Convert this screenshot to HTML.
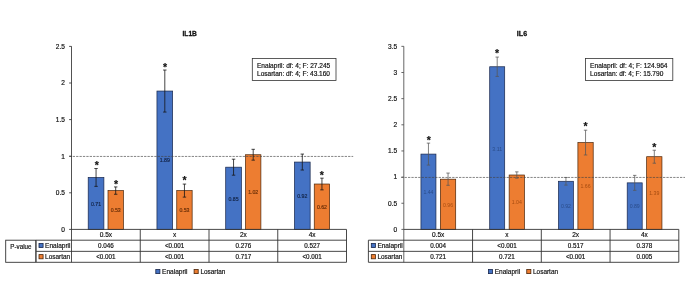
<!DOCTYPE html>
<html lang="en">
<head>
<meta charset="utf-8">
<title>IL1B and IL6 expression</title>
<style>
html,body{margin:0;padding:0;background:#fff;}
body{width:685px;height:293px;overflow:hidden;font-family:'Liberation Sans',sans-serif;}
svg{display:block;}
svg text{stroke-linejoin:round;}
</style>
</head>
<body>
<svg width="685" height="293" viewBox="0 0 685 293" font-family="'Liberation Sans', sans-serif">
<rect width="685" height="293" fill="#fff"/>
<g>
<text x="189.7" y="36" font-size="7.2" text-anchor="middle" fill="#111" font-weight="bold" textLength="14.4" lengthAdjust="spacingAndGlyphs" stroke="#111" stroke-width="0.3">IL1B</text>
<rect x="88.2" y="177.43" width="15.7" height="51.97" fill="#4472C4" stroke="#18264a" stroke-width="0.7"/>
<rect x="108" y="190.6" width="15.4" height="38.8" fill="#ED7D31" stroke="#4a2408" stroke-width="0.7"/>
<rect x="156.95" y="91.05" width="15.7" height="138.35" fill="#4472C4" stroke="#18264a" stroke-width="0.7"/>
<rect x="176.75" y="190.6" width="15.4" height="38.8" fill="#ED7D31" stroke="#4a2408" stroke-width="0.7"/>
<rect x="225.7" y="167.18" width="15.7" height="62.22" fill="#4472C4" stroke="#18264a" stroke-width="0.7"/>
<rect x="245.5" y="154.74" width="15.4" height="74.66" fill="#ED7D31" stroke="#4a2408" stroke-width="0.7"/>
<rect x="294.45" y="162.06" width="15.7" height="67.34" fill="#4472C4" stroke="#18264a" stroke-width="0.7"/>
<rect x="314.25" y="184.02" width="15.4" height="45.38" fill="#ED7D31" stroke="#4a2408" stroke-width="0.7"/>
<line x1="69.3" y1="156.45" x2="353.2" y2="156.45" stroke="#444" stroke-width="0.65" stroke-dasharray="2.3 1.1"/>
<text x="96.05" y="205.66" font-size="5.2" text-anchor="middle" fill="#14264a" stroke="#14264a" stroke-width="0.18">0.71</text>
<path d="M96.05 168.5V186.36M94.35 168.5h3.4M94.35 186.36h3.4" stroke="#161616" stroke-width="0.8" fill="none"/>
<text x="96.9" y="169.15" font-size="10.5" text-anchor="middle" fill="#111" font-weight="bold" stroke="#111" stroke-width="0.2">*</text>
<text x="115.7" y="212.25" font-size="5.2" text-anchor="middle" fill="#6b2f08" stroke="#6b2f08" stroke-width="0.18">0.53</text>
<path d="M115.7 186.94V194.26M114 186.94h3.4M114 194.26h3.4" stroke="#161616" stroke-width="0.8" fill="none"/>
<text x="116" y="187.55" font-size="10.5" text-anchor="middle" fill="#111" font-weight="bold" stroke="#111" stroke-width="0.2">*</text>
<text x="164.8" y="162.48" font-size="5.2" text-anchor="middle" fill="#14264a" stroke="#14264a" stroke-width="0.18">1.89</text>
<path d="M164.8 70.04V112.06M163.1 70.04h3.4M163.1 112.06h3.4" stroke="#161616" stroke-width="0.8" fill="none"/>
<text x="165" y="70.85" font-size="10.5" text-anchor="middle" fill="#111" font-weight="bold" stroke="#111" stroke-width="0.2">*</text>
<text x="184.45" y="212.25" font-size="5.2" text-anchor="middle" fill="#6b2f08" stroke="#6b2f08" stroke-width="0.18">0.53</text>
<path d="M184.45 184.09V197.12M182.75 184.09h3.4M182.75 197.12h3.4" stroke="#161616" stroke-width="0.8" fill="none"/>
<text x="184.5" y="184.15" font-size="10.5" text-anchor="middle" fill="#111" font-weight="bold" stroke="#111" stroke-width="0.2">*</text>
<text x="233.55" y="200.54" font-size="5.2" text-anchor="middle" fill="#14264a" stroke="#14264a" stroke-width="0.18">0.85</text>
<path d="M233.55 159.2V175.16M231.85 159.2h3.4M231.85 175.16h3.4" stroke="#161616" stroke-width="0.8" fill="none"/>
<text x="253.2" y="194.32" font-size="5.2" text-anchor="middle" fill="#6b2f08" stroke="#6b2f08" stroke-width="0.18">1.02</text>
<path d="M253.2 149.32V160.15M251.5 149.32h3.4M251.5 160.15h3.4" stroke="#161616" stroke-width="0.8" fill="none"/>
<text x="302.3" y="197.98" font-size="5.2" text-anchor="middle" fill="#14264a" stroke="#14264a" stroke-width="0.18">0.92</text>
<path d="M302.3 154.08V170.03M300.6 154.08h3.4M300.6 170.03h3.4" stroke="#161616" stroke-width="0.8" fill="none"/>
<text x="321.95" y="208.96" font-size="5.2" text-anchor="middle" fill="#6b2f08" stroke="#6b2f08" stroke-width="0.18">0.62</text>
<path d="M321.95 178.16V189.87M320.25 178.16h3.4M320.25 189.87h3.4" stroke="#161616" stroke-width="0.8" fill="none"/>
<text x="321.7" y="179.35" font-size="10.5" text-anchor="middle" fill="#111" font-weight="bold" stroke="#111" stroke-width="0.2">*</text>
<path d="M71.5 46.3V262.3" stroke="#333" stroke-width="0.85" fill="none"/>
<line x1="69.1" y1="229.4" x2="71.5" y2="229.4" stroke="#333" stroke-width="0.85"/>
<text x="64.9" y="231.75" font-size="6.55" text-anchor="end" fill="#111" stroke="#111" stroke-width="0.18">0</text>
<line x1="69.1" y1="192.8" x2="71.5" y2="192.8" stroke="#333" stroke-width="0.85"/>
<text x="64.9" y="195.15" font-size="6.55" text-anchor="end" fill="#111" stroke="#111" stroke-width="0.18">0.5</text>
<line x1="69.1" y1="156.2" x2="71.5" y2="156.2" stroke="#333" stroke-width="0.85"/>
<text x="64.9" y="158.55" font-size="6.55" text-anchor="end" fill="#111" stroke="#111" stroke-width="0.18">1</text>
<line x1="69.1" y1="119.6" x2="71.5" y2="119.6" stroke="#333" stroke-width="0.85"/>
<text x="64.9" y="121.95" font-size="6.55" text-anchor="end" fill="#111" stroke="#111" stroke-width="0.18">1.5</text>
<line x1="69.1" y1="83" x2="71.5" y2="83" stroke="#333" stroke-width="0.85"/>
<text x="64.9" y="85.35" font-size="6.55" text-anchor="end" fill="#111" stroke="#111" stroke-width="0.18">2</text>
<line x1="69.1" y1="46.4" x2="71.5" y2="46.4" stroke="#333" stroke-width="0.85"/>
<text x="64.9" y="48.75" font-size="6.55" text-anchor="end" fill="#111" stroke="#111" stroke-width="0.18">2.5</text>
<path d="M71.5 229.4H346.5V262.3H36.1V240.2H346.5M36.1 251.35H346.5M140.25 229.4V262.3M209 229.4V262.3M277.75 229.4V262.3" stroke="#333" stroke-width="0.9" fill="none"/>
<text x="105.88" y="237.2" font-size="6.55" text-anchor="middle" fill="#111" stroke="#111" stroke-width="0.18">0.5x</text>
<text x="105.88" y="248.1" font-size="6.3" text-anchor="middle" fill="#111" stroke="#111" stroke-width="0.18">0.046</text>
<text x="105.88" y="259.1" font-size="6.3" text-anchor="middle" fill="#111" stroke="#111" stroke-width="0.18">&lt;0.001</text>
<text x="174.62" y="237.2" font-size="6.55" text-anchor="middle" fill="#111" stroke="#111" stroke-width="0.18">x</text>
<text x="174.62" y="248.1" font-size="6.3" text-anchor="middle" fill="#111" stroke="#111" stroke-width="0.18">&lt;0.001</text>
<text x="174.62" y="259.1" font-size="6.3" text-anchor="middle" fill="#111" stroke="#111" stroke-width="0.18">&lt;0.001</text>
<text x="243.38" y="237.2" font-size="6.55" text-anchor="middle" fill="#111" stroke="#111" stroke-width="0.18">2x</text>
<text x="243.38" y="248.1" font-size="6.3" text-anchor="middle" fill="#111" stroke="#111" stroke-width="0.18">0.276</text>
<text x="243.38" y="259.1" font-size="6.3" text-anchor="middle" fill="#111" stroke="#111" stroke-width="0.18">0.717</text>
<text x="312.12" y="237.2" font-size="6.55" text-anchor="middle" fill="#111" stroke="#111" stroke-width="0.18">4x</text>
<text x="312.12" y="248.1" font-size="6.3" text-anchor="middle" fill="#111" stroke="#111" stroke-width="0.18">0.527</text>
<text x="312.12" y="259.1" font-size="6.3" text-anchor="middle" fill="#111" stroke="#111" stroke-width="0.18">&lt;0.001</text>
<rect x="39" y="243.4" width="4.1" height="4.2" fill="#4472C4" stroke="#18264a" stroke-width="0.8"/>
<rect x="39" y="254.6" width="4.1" height="4.2" fill="#ED7D31" stroke="#4a2408" stroke-width="0.8"/>
<text x="45.1" y="248.1" font-size="6.55" text-anchor="start" fill="#111" stroke="#111" stroke-width="0.18" textLength="25.4" lengthAdjust="spacingAndGlyphs">Enalapril</text>
<text x="45.1" y="259.1" font-size="6.55" text-anchor="start" fill="#111" stroke="#111" stroke-width="0.18" textLength="25" lengthAdjust="spacingAndGlyphs">Losartan</text>
<rect x="5.7" y="240.2" width="30.0" height="22.1" fill="#fff" stroke="#333" stroke-width="0.9"/>
<text x="20.9" y="249" font-size="6.55" text-anchor="middle" fill="#111" stroke="#111" stroke-width="0.18" textLength="21.2" lengthAdjust="spacingAndGlyphs">P-value</text>
<rect x="155.8" y="269.5" width="4.1" height="4.1" fill="#4472C4" stroke="#18264a" stroke-width="0.8"/>
<text x="162.1" y="274" font-size="6.55" text-anchor="start" fill="#111" stroke="#111" stroke-width="0.18" textLength="25.4" lengthAdjust="spacingAndGlyphs">Enalapril</text>
<rect x="194.1" y="269.5" width="4.1" height="4.1" fill="#ED7D31" stroke="#4a2408" stroke-width="0.8"/>
<text x="200.4" y="274" font-size="6.55" text-anchor="start" fill="#111" stroke="#111" stroke-width="0.18" textLength="25" lengthAdjust="spacingAndGlyphs">Losartan</text>
<rect x="252.3" y="58.4" width="83.7" height="22.1" fill="#fff" stroke="#333" stroke-width="0.8"/>
<text x="257" y="67.7" font-size="6.55" text-anchor="start" fill="#111" stroke="#111" stroke-width="0.18" textLength="73.2" lengthAdjust="spacingAndGlyphs">Enalapril: df: 4; F: 27.245</text>
<text x="257" y="75.9" font-size="6.55" text-anchor="start" fill="#111" stroke="#111" stroke-width="0.18" textLength="73" lengthAdjust="spacingAndGlyphs">Losartan: df: 4; F: 43.160</text>
</g>
<g>
<text x="522" y="36" font-size="7.2" text-anchor="middle" fill="#111" font-weight="bold" textLength="10.3" lengthAdjust="spacingAndGlyphs" stroke="#111" stroke-width="0.3">IL6</text>
<rect x="420.95" y="154.09" width="15.0" height="75.31" fill="#4472C4" stroke="#18264a" stroke-width="0.7"/>
<rect x="440.4" y="179.19" width="15.3" height="50.21" fill="#ED7D31" stroke="#4a2408" stroke-width="0.7"/>
<rect x="489.7" y="66.75" width="15.0" height="162.65" fill="#4472C4" stroke="#18264a" stroke-width="0.7"/>
<rect x="509.15" y="175.01" width="15.3" height="54.39" fill="#ED7D31" stroke="#4a2408" stroke-width="0.7"/>
<rect x="558.45" y="181.28" width="15.0" height="48.12" fill="#4472C4" stroke="#18264a" stroke-width="0.7"/>
<rect x="577.9" y="142.58" width="15.3" height="86.82" fill="#ED7D31" stroke="#4a2408" stroke-width="0.7"/>
<rect x="627.2" y="182.85" width="15.0" height="46.55" fill="#4472C4" stroke="#18264a" stroke-width="0.7"/>
<rect x="646.65" y="156.7" width="15.3" height="72.7" fill="#ED7D31" stroke="#4a2408" stroke-width="0.7"/>
<line x1="401.2" y1="177.45" x2="685" y2="177.45" stroke="#444" stroke-width="0.65" stroke-dasharray="2.3 1.1"/>
<text x="428.45" y="193.99" font-size="5.2" text-anchor="middle" fill="#2a4c8a" stroke="none">1.44</text>
<path d="M428.45 143.11V165.07M426.75 143.11h3.4M426.75 165.07h3.4" stroke="#555" stroke-width="0.75" fill="none"/>
<text x="428.8" y="143.85" font-size="10.5" text-anchor="middle" fill="#111" font-weight="bold" stroke="#111" stroke-width="0.2">*</text>
<text x="448.05" y="206.55" font-size="5.2" text-anchor="middle" fill="#a64c10" stroke="none">0.96</text>
<path d="M448.05 173.07V185.31M446.35 173.07h3.4M446.35 185.31h3.4" stroke="#555" stroke-width="0.75" fill="none"/>
<text x="497.2" y="150.67" font-size="5.2" text-anchor="middle" fill="#2a4c8a" stroke="none">3.11</text>
<path d="M497.2 57.07V76.42M495.5 57.07h3.4M495.5 76.42h3.4" stroke="#555" stroke-width="0.75" fill="none"/>
<text x="497" y="56.75" font-size="10.5" text-anchor="middle" fill="#111" font-weight="bold" stroke="#111" stroke-width="0.2">*</text>
<text x="516.8" y="204.45" font-size="5.2" text-anchor="middle" fill="#a64c10" stroke="none">1.04</text>
<path d="M516.8 171.87V178.15M515.1 171.87h3.4M515.1 178.15h3.4" stroke="#555" stroke-width="0.75" fill="none"/>
<text x="565.95" y="207.59" font-size="5.2" text-anchor="middle" fill="#2a4c8a" stroke="none">0.92</text>
<path d="M565.95 177.47V185.1M564.25 177.47h3.4M564.25 185.1h3.4" stroke="#555" stroke-width="0.75" fill="none"/>
<text x="585.55" y="188.24" font-size="5.2" text-anchor="middle" fill="#a64c10" stroke="none">1.66</text>
<path d="M585.55 130.19V154.98M583.85 130.19h3.4M583.85 154.98h3.4" stroke="#555" stroke-width="0.75" fill="none"/>
<text x="585.5" y="129.95" font-size="10.5" text-anchor="middle" fill="#111" font-weight="bold" stroke="#111" stroke-width="0.2">*</text>
<text x="634.7" y="208.38" font-size="5.2" text-anchor="middle" fill="#2a4c8a" stroke="none">0.89</text>
<path d="M634.7 175.37V190.33M633 175.37h3.4M633 190.33h3.4" stroke="#555" stroke-width="0.75" fill="none"/>
<text x="654.3" y="195.3" font-size="5.2" text-anchor="middle" fill="#a64c10" stroke="none">1.39</text>
<path d="M654.3 150.22V163.19M652.6 150.22h3.4M652.6 163.19h3.4" stroke="#555" stroke-width="0.75" fill="none"/>
<text x="654.3" y="150.85" font-size="10.5" text-anchor="middle" fill="#111" font-weight="bold" stroke="#111" stroke-width="0.2">*</text>
<path d="M403.8 46.3V262.3" stroke="#4a4a4a" stroke-width="0.85" fill="none"/>
<line x1="401.4" y1="229.4" x2="403.8" y2="229.4" stroke="#4a4a4a" stroke-width="0.85"/>
<text x="397.2" y="231.75" font-size="6.55" text-anchor="end" fill="#111" stroke="#111" stroke-width="0.18">0</text>
<line x1="401.4" y1="203.25" x2="403.8" y2="203.25" stroke="#4a4a4a" stroke-width="0.85"/>
<text x="397.2" y="205.6" font-size="6.55" text-anchor="end" fill="#111" stroke="#111" stroke-width="0.18">0.5</text>
<line x1="401.4" y1="177.1" x2="403.8" y2="177.1" stroke="#4a4a4a" stroke-width="0.85"/>
<text x="397.2" y="179.45" font-size="6.55" text-anchor="end" fill="#111" stroke="#111" stroke-width="0.18">1</text>
<line x1="401.4" y1="150.95" x2="403.8" y2="150.95" stroke="#4a4a4a" stroke-width="0.85"/>
<text x="397.2" y="153.3" font-size="6.55" text-anchor="end" fill="#111" stroke="#111" stroke-width="0.18">1.5</text>
<line x1="401.4" y1="124.8" x2="403.8" y2="124.8" stroke="#4a4a4a" stroke-width="0.85"/>
<text x="397.2" y="127.15" font-size="6.55" text-anchor="end" fill="#111" stroke="#111" stroke-width="0.18">2</text>
<line x1="401.4" y1="98.65" x2="403.8" y2="98.65" stroke="#4a4a4a" stroke-width="0.85"/>
<text x="397.2" y="101" font-size="6.55" text-anchor="end" fill="#111" stroke="#111" stroke-width="0.18">2.5</text>
<line x1="401.4" y1="72.5" x2="403.8" y2="72.5" stroke="#4a4a4a" stroke-width="0.85"/>
<text x="397.2" y="74.85" font-size="6.55" text-anchor="end" fill="#111" stroke="#111" stroke-width="0.18">3</text>
<line x1="401.4" y1="46.35" x2="403.8" y2="46.35" stroke="#4a4a4a" stroke-width="0.85"/>
<text x="397.2" y="48.7" font-size="6.55" text-anchor="end" fill="#111" stroke="#111" stroke-width="0.18">3.5</text>
<path d="M403.8 229.4H678.8V262.3H368.4V240.2H678.8M368.4 251.35H678.8M472.55 229.4V262.3M541.3 229.4V262.3M610.05 229.4V262.3" stroke="#333" stroke-width="0.9" fill="none"/>
<text x="438.18" y="237.2" font-size="6.55" text-anchor="middle" fill="#111" stroke="#111" stroke-width="0.18">0.5x</text>
<text x="438.18" y="248.1" font-size="6.3" text-anchor="middle" fill="#111" stroke="#111" stroke-width="0.18">0.004</text>
<text x="438.18" y="259.1" font-size="6.3" text-anchor="middle" fill="#111" stroke="#111" stroke-width="0.18">0.721</text>
<text x="506.93" y="237.2" font-size="6.55" text-anchor="middle" fill="#111" stroke="#111" stroke-width="0.18">x</text>
<text x="506.93" y="248.1" font-size="6.3" text-anchor="middle" fill="#111" stroke="#111" stroke-width="0.18">&lt;0.001</text>
<text x="506.93" y="259.1" font-size="6.3" text-anchor="middle" fill="#111" stroke="#111" stroke-width="0.18">0.721</text>
<text x="575.67" y="237.2" font-size="6.55" text-anchor="middle" fill="#111" stroke="#111" stroke-width="0.18">2x</text>
<text x="575.67" y="248.1" font-size="6.3" text-anchor="middle" fill="#111" stroke="#111" stroke-width="0.18">0.517</text>
<text x="575.67" y="259.1" font-size="6.3" text-anchor="middle" fill="#111" stroke="#111" stroke-width="0.18">&lt;0.001</text>
<text x="644.42" y="237.2" font-size="6.55" text-anchor="middle" fill="#111" stroke="#111" stroke-width="0.18">4x</text>
<text x="644.42" y="248.1" font-size="6.3" text-anchor="middle" fill="#111" stroke="#111" stroke-width="0.18">0.378</text>
<text x="644.42" y="259.1" font-size="6.3" text-anchor="middle" fill="#111" stroke="#111" stroke-width="0.18">0.005</text>
<rect x="371.3" y="243.4" width="4.1" height="4.2" fill="#4472C4" stroke="#18264a" stroke-width="0.8"/>
<rect x="371.3" y="254.6" width="4.1" height="4.2" fill="#ED7D31" stroke="#4a2408" stroke-width="0.8"/>
<text x="377.4" y="248.1" font-size="6.55" text-anchor="start" fill="#111" stroke="#111" stroke-width="0.18" textLength="25.4" lengthAdjust="spacingAndGlyphs">Enalapril</text>
<text x="377.4" y="259.1" font-size="6.55" text-anchor="start" fill="#111" stroke="#111" stroke-width="0.18" textLength="25" lengthAdjust="spacingAndGlyphs">Losartan</text>
<rect x="488.45" y="269.5" width="4.1" height="4.1" fill="#4472C4" stroke="#18264a" stroke-width="0.8"/>
<text x="494.75" y="274" font-size="6.55" text-anchor="start" fill="#111" stroke="#111" stroke-width="0.18" textLength="25.4" lengthAdjust="spacingAndGlyphs">Enalapril</text>
<rect x="526.75" y="269.5" width="4.1" height="4.1" fill="#ED7D31" stroke="#4a2408" stroke-width="0.8"/>
<text x="533.05" y="274" font-size="6.55" text-anchor="start" fill="#111" stroke="#111" stroke-width="0.18" textLength="25" lengthAdjust="spacingAndGlyphs">Losartan</text>
<rect x="585.4" y="58.4" width="87.4" height="22.1" fill="#fff" stroke="#333" stroke-width="0.8"/>
<text x="590.1" y="67.7" font-size="6.55" text-anchor="start" fill="#111" stroke="#111" stroke-width="0.18" textLength="77.4" lengthAdjust="spacingAndGlyphs">Enalapril: df: 4; F: 124.964</text>
<text x="590.1" y="75.9" font-size="6.55" text-anchor="start" fill="#111" stroke="#111" stroke-width="0.18" textLength="73.2" lengthAdjust="spacingAndGlyphs">Losartan: df: 4; F: 15.790</text>
</g>
</svg>
</body>
</html>
